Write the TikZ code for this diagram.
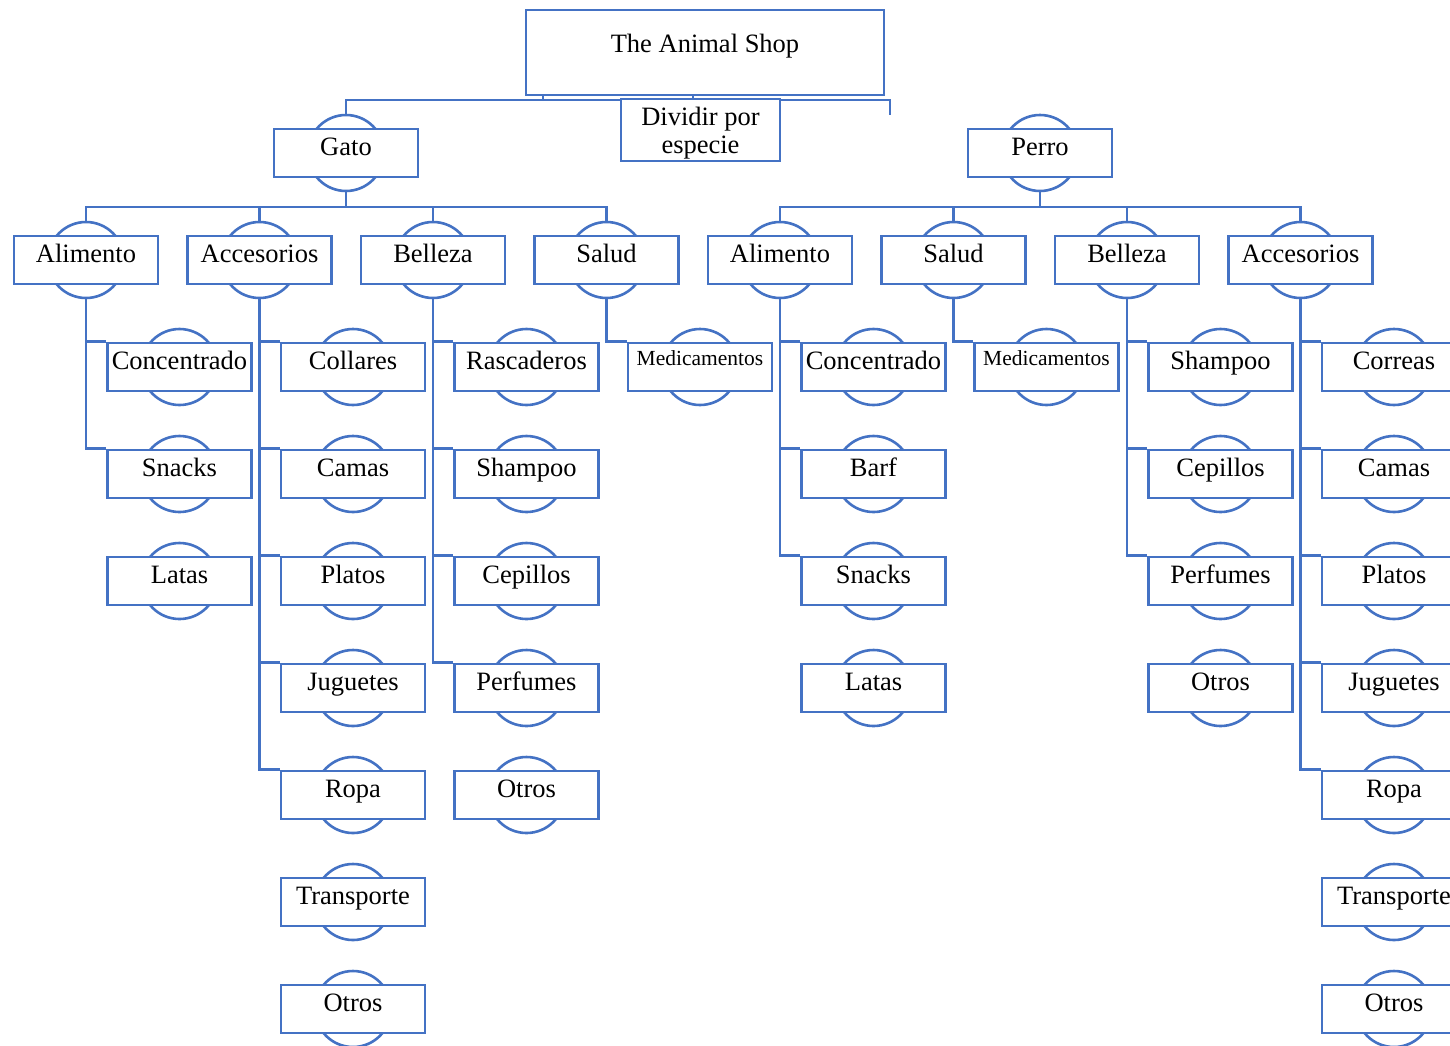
\documentclass[tikz,border=0pt]{standalone}
\usepackage{fontspec}
\setmainfont{Liberation Serif}
\usetikzlibrary{backgrounds}
\definecolor{shopblue}{RGB}{68, 114, 196}
\tikzset{
  bluebox/.style={draw=shopblue, fill=white, line width=2.6pt, minimum width=144pt, minimum height=48pt,
    inner sep=0pt, font=\fontsize{26.5}{30}\selectfont, text height=18pt, text depth=14pt},
  medbox/.style={font=\fontsize{21.5}{24}\selectfont, text height=15pt, text depth=19pt},
  divbox/.style={draw=shopblue, fill=white, line width=2.6pt, minimum width=159pt, minimum height=62pt,
    inner sep=0pt, align=center, font=\fontsize{26.5}{28}\selectfont, text height=52pt, text depth=5.6pt},
  bump/.style={circle, draw=shopblue, fill=white, line width=2.6pt, minimum size=76pt, inner sep=0pt},
  link/.style={draw=shopblue, line width=2.6pt},
}

\begin{document}
\begin{tikzpicture}[x=1pt, y=-1pt]
  \useasboundingbox (0,0) rectangle (1450,1045);

  % top
  \node[bluebox, minimum width=358pt, minimum height=85pt, text depth=19pt] (root) at (705,52.5) {The Animal Shop};
  \node[divbox] (divide) at (700.5,130) {Dividir por\\especie};

  % species
  \node[bump] (gato-b) at (346,153) {};
  \node[bluebox] (gato) at (346,153) {Gato};
  \node[bump] (perro-b) at (1040,153) {};
  \node[bluebox] (perro) at (1040,153) {Perro};

  % categories
  \foreach \n/\t [count=\k from 0] in {gali/Alimento, gacc/Accesorios, gbel/Belleza, gsal/Salud,
      pali/Alimento, psal/Salud, pbel/Belleza, pacc/Accesorios} {
    \node[bump] (\n-b) at (86+173.5*\k,260) {};
    \node[bluebox] (\n) at (86+173.5*\k,260) {\t};
  }

  % gato items
  \foreach \t [count=\i] in {Concentrado, Snacks, Latas} {
    \node[bump] (gali\i-b) at (179.5,260+107*\i) {};
    \node[bluebox] (gali\i) at (179.5,260+107*\i) {\t};
  }
  \foreach \t [count=\i] in {Collares, Camas, Platos, Juguetes, Ropa, Transporte, Otros} {
    \node[bump] (gacc\i-b) at (353,260+107*\i) {};
    \node[bluebox] (gacc\i) at (353,260+107*\i) {\t};
  }
  \foreach \t [count=\i] in {Rascaderos, Shampoo, Cepillos, Perfumes, Otros} {
    \node[bump] (gbel\i-b) at (526.5,260+107*\i) {};
    \node[bluebox] (gbel\i) at (526.5,260+107*\i) {\t};
  }
  \node[bump] (gsal1-b) at (700,367) {};
  \node[bluebox, medbox] (gsal1) at (700,367) {Medicamentos};

  % perro items
  \foreach \t [count=\i] in {Concentrado, Barf, Snacks, Latas} {
    \node[bump] (pali\i-b) at (873.5,260+107*\i) {};
    \node[bluebox] (pali\i) at (873.5,260+107*\i) {\t};
  }
  \node[bump] (psal1-b) at (1046.5,367) {};
  \node[bluebox, medbox] (psal1) at (1046.5,367) {Medicamentos};
  \foreach \t [count=\i] in {Shampoo, Cepillos, Perfumes, Otros} {
    \node[bump] (pbel\i-b) at (1220.5,260+107*\i) {};
    \node[bluebox] (pbel\i) at (1220.5,260+107*\i) {\t};
  }
  \foreach \t [count=\i] in {Correas, Camas, Platos, Juguetes, Ropa, Transporte, Otros} {
    \node[bump] (pacc\i-b) at (1394,260+107*\i) {};
    \node[bluebox] (pacc\i) at (1394,260+107*\i) {\t};
  }

  % connectors
  \begin{scope}[on background layer]
    \fill[white] (0,0) rectangle (1450,1045);
    \coordinate (rbus) at (705,100);
    \coordinate (rend) at (890,115);
    \coordinate (rtick1) at (543,95);
    \coordinate (rtick2) at (693,95);
    \draw[link] (gato-b.north) |- (rbus) -| (rend);
    \draw[link] (rtick1) -- (rtick1 |- rbus);
    \draw[link] (rtick2) -- (rtick2 |- divide.north);

    \coordinate (gbus) at (346,207);
    \draw[link] (gato-b.south) -- (gbus);
    \draw[link] (gali-b.north) |- (gbus) -| (gsal-b.north);
    \draw[link] (gacc-b.north) -- (gacc-b.north |- gbus);
    \draw[link] (gbel-b.north) -- (gbel-b.north |- gbus);

    \coordinate (pbus) at (1040,207);
    \draw[link] (perro-b.south) -- (pbus);
    \draw[link] (pali-b.north) |- (pbus) -| (pacc-b.north);
    \draw[link] (psal-b.north) -- (psal-b.north |- pbus);
    \draw[link] (pbel-b.north) -- (pbel-b.north |- pbus);

    \foreach \i in {1,2} \draw[link] (gali-b.south) |- (gali\i.north west);
    \foreach \i in {1,...,5} \draw[link] (gacc-b.south) |- (gacc\i.north west);
    \foreach \i in {1,...,4} \draw[link] (gbel-b.south) |- (gbel\i.north west);
    \draw[link] (gsal-b.south) |- (gsal1.north west);
    \foreach \i in {1,2,3} \draw[link] (pali-b.south) |- (pali\i.north west);
    \draw[link] (psal-b.south) |- (psal1.north west);
    \foreach \i in {1,2,3} \draw[link] (pbel-b.south) |- (pbel\i.north west);
    \foreach \i in {1,...,5} \draw[link] (pacc-b.south) |- (pacc\i.north west);
  \end{scope}
\end{tikzpicture}
\end{document}
